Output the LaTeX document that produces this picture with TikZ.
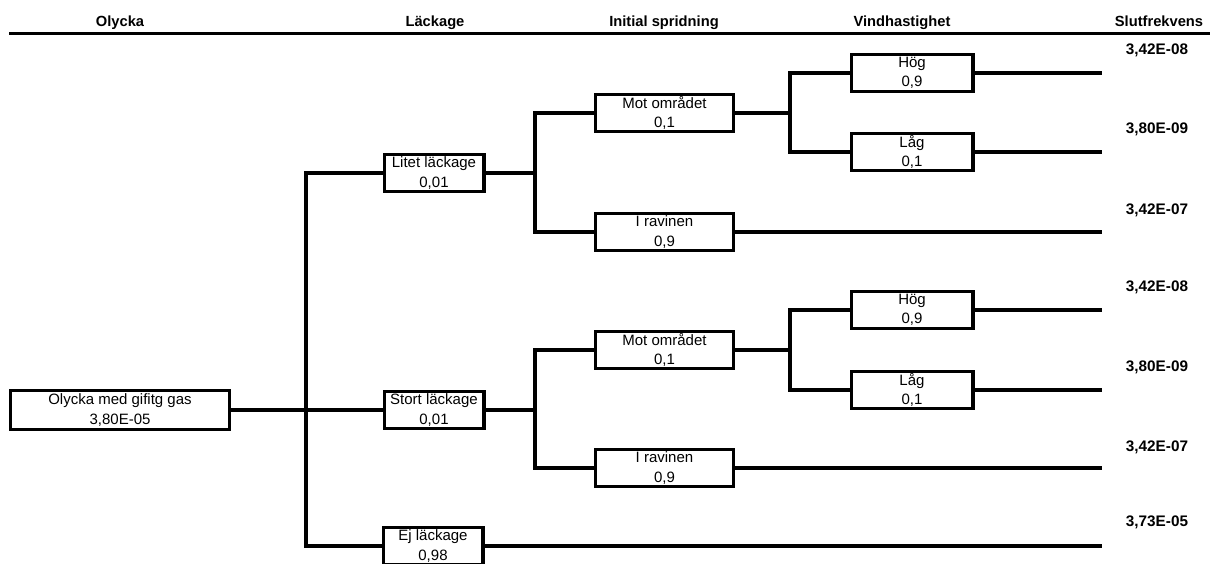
\documentclass[tikz,border=0pt]{standalone}
\usepackage{fontspec}
\setmainfont{Liberation Sans}
\begin{document}
\begin{tikzpicture}[x=1pt,y=-1pt,
  evbox/.style={draw, line width=3.4pt, inner sep=0pt, minimum height=36.6pt,
    align=center, font=\fontsize{15}{19.5}\selectfont},
  rootbox/.style={evbox, minimum width=218.6pt, minimum height=38.6pt},
  leakbox/.style={evbox, minimum width=99.6pt},
  dispbox/.style={evbox, minimum width=137.6pt},
  windbox/.style={evbox, minimum width=121.6pt},
  branch/.style={line width=3.4pt, line join=miter},
  head/.style={anchor=base, font=\fontsize{14.7}{17}\selectfont\bfseries},
  result/.style={anchor=base, font=\fontsize{15.3}{17}\selectfont\bfseries}]
\useasboundingbox (0,0) rectangle (1210,563);

% column headings
\node[head] (h1) at (120,26) {Olycka};
\node[head] (h2) at (435,26) {Läckage};
\node[head] (h3) at (664,26) {Initial spridning};
\node[head] (h4) at (902,26) {Vindhastighet};
\node[head] (h5) at (1159,26) {Slutfrekvens};
\coordinate (hl) at (9,33);
\coordinate (hr) at (1210,33);
\draw[line width=3pt] (hl) -- (hr);

% event boxes
\node[rootbox] (root) at (120,410) {Olycka med gifitg gas\\3,80E-05};
\node[leakbox] (litet) at (434,173) {Litet läckage\\0,01};
\node[leakbox] (stort) at (434,410) {Stort läckage\\0,01};
\node[leakbox] (ej) at (433,546) {Ej läckage\\0,98};
\node[dispbox] (mot1) at (664.5,113) {Mot området\\0,1};
\node[dispbox] (rav1) at (664.5,232) {I ravinen\\0,9};
\node[dispbox] (mot2) at (664.5,350) {Mot området\\0,1};
\node[dispbox] (rav2) at (664.5,468) {I ravinen\\0,9};
\node[windbox] (hog1) at (912,73) {Hög\\0,9};
\node[windbox] (lag1) at (912,152) {Låg\\0,1};
\node[windbox] (hog2) at (912,310) {Hög\\0,9};
\node[windbox] (lag2) at (912,390) {Låg\\0,1};

% branch columns and line ends
\coordinate (c1) at (306,0);
\coordinate (c2) at (535,0);
\coordinate (c3) at (790,0);
\coordinate (ce) at (1102,0);

% tree branches
\draw[branch] (root.east) -- (stort.west);
\draw[branch] (litet.west) -| (c1 |- ej.west) -- (ej.west);
\draw[branch] (litet.east) -- (litet.east -| c2);
\draw[branch] (mot1.west) -| (c2 |- rav1.west) -- (rav1.west);
\draw[branch] (stort.east) -- (stort.east -| c2);
\draw[branch] (mot2.west) -| (c2 |- rav2.west) -- (rav2.west);
\draw[branch] (mot1.east) -- (mot1.east -| c3);
\draw[branch] (hog1.west) -| (c3 |- lag1.west) -- (lag1.west);
\draw[branch] (mot2.east) -- (mot2.east -| c3);
\draw[branch] (hog2.west) -| (c3 |- lag2.west) -- (lag2.west);
\draw[branch] (hog1.east) -- (hog1.east -| ce);
\draw[branch] (lag1.east) -- (lag1.east -| ce);
\draw[branch] (rav1.east) -- (rav1.east -| ce);
\draw[branch] (hog2.east) -- (hog2.east -| ce);
\draw[branch] (lag2.east) -- (lag2.east -| ce);
\draw[branch] (rav2.east) -- (rav2.east -| ce);
\draw[branch] (ej.east) -- (ej.east -| ce);

% end frequencies
\node[result] (r1) at (1157,54) {3,42E-08};
\node[result] (r2) at (1157,133) {3,80E-09};
\node[result] (r3) at (1157,214) {3,42E-07};
\node[result] (r4) at (1157,291) {3,42E-08};
\node[result] (r5) at (1157,371) {3,80E-09};
\node[result] (r6) at (1157,451) {3,42E-07};
\node[result] (r7) at (1157,526) {3,73E-05};
\end{tikzpicture}
\end{document}
